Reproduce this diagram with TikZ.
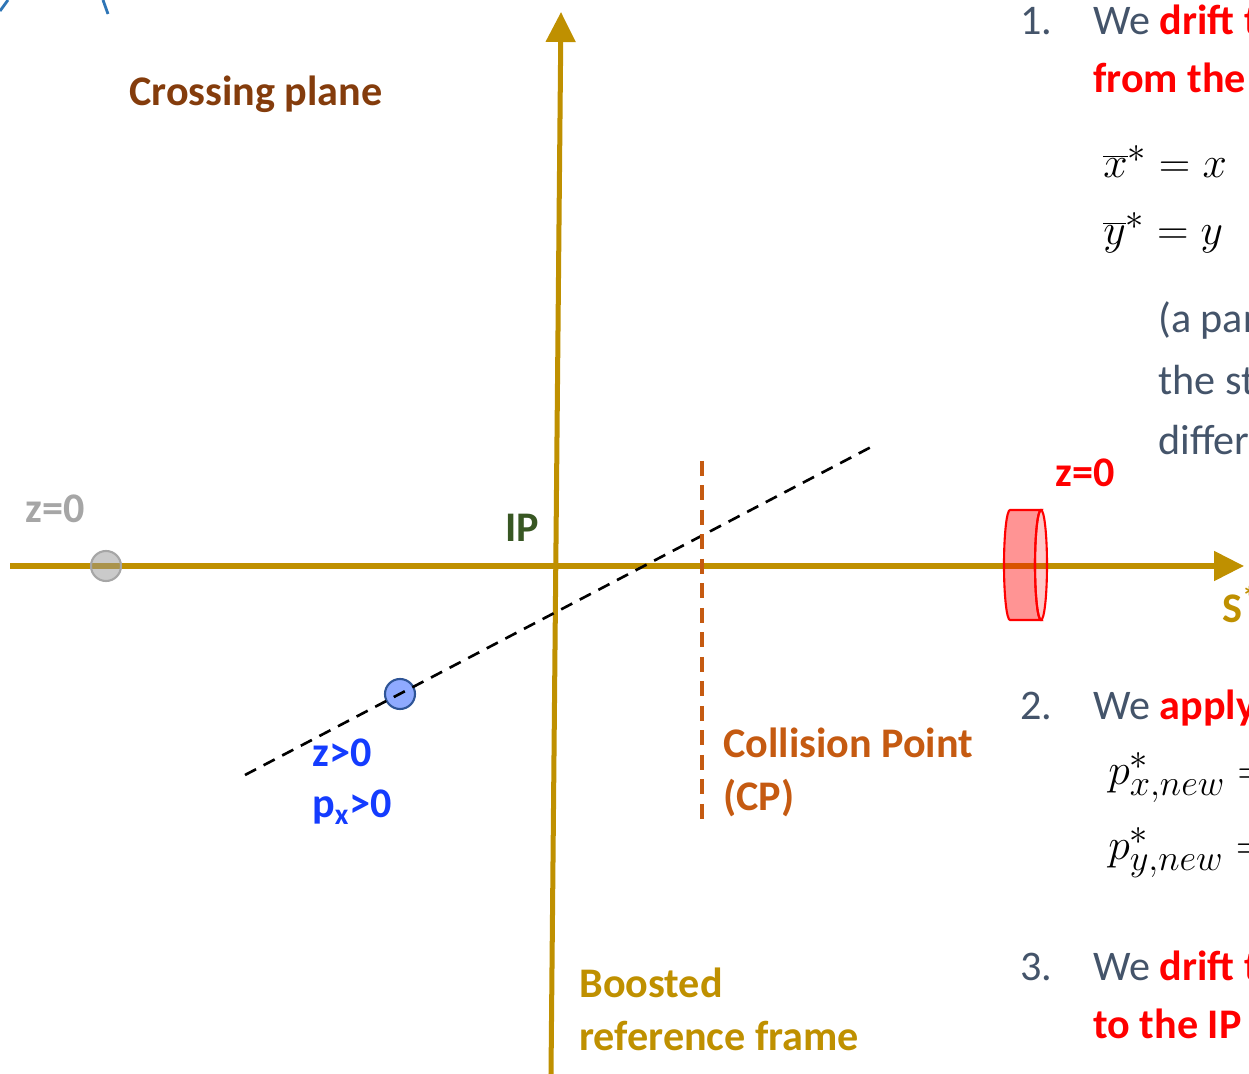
\documentclass[tikz,border=0pt]{standalone}
\usepackage{fontspec}
\setmainfont{Carlito}
\usetikzlibrary{arrows.meta}
\definecolor{axisgold}{RGB}{191,144,0}
\definecolor{planebrown}{RGB}{132,60,12}
\definecolor{ipgreen}{RGB}{56,87,35}
\definecolor{cporange}{RGB}{197,90,17}
\definecolor{partblue}{RGB}{20,60,255}
\definecolor{slate}{RGB}{68,84,106}
\definecolor{arcblue}{RGB}{46,117,182}
\definecolor{ringgray}{RGB}{166,166,166}
\definecolor{disced}{RGB}{255,0,0}
\definecolor{balldraw}{RGB}{47,85,151}
\definecolor{ballfill}{RGB}{143,170,255}
\begin{document}
\begin{tikzpicture}[x=0.02cm,y=-0.02cm,
  lbl/.style={font=\fontsize{24}{29.6}\selectfont\bfseries,anchor=base west,inner sep=0pt,align=left},
  txt/.style={font=\fontsize{24}{29.6}\selectfont,anchor=base west,inner sep=0pt,text=slate},
  eqn/.style={font=\fontsize{31}{36}\selectfont,anchor=base west,inner sep=0pt,text=black},
  axisline/.style={axisgold,line width=2.85pt,-{Triangle[length=0.6cm,width=0.58cm]}}]
  \useasboundingbox (0,0) rectangle (1249,1074);
  \clip (0,0) rectangle (1249,1074);
  % axes of the boosted frame
  \coordinate (sleft) at (10,566);
  \coordinate (sright) at (1244,566);
  \coordinate (xbottom) at (551,1074);
  \coordinate (xtop) at (561,12);
  \draw[axisline] (sleft)--(sright);
  \draw[axisline] (xbottom)--(xtop);
  % bits of an arc at the top left
  \coordinate (arca) at (0,11);
  \coordinate (arcb) at (8,0);
  \coordinate (arcc) at (103,0);
  \coordinate (arcd) at (108,14);
  \draw[arcblue,line width=1.6pt] (arca)--(arcb);
  \draw[arcblue,line width=1.6pt] (arcc)--(arcd);
  % particles
  \draw[ringgray,line width=1.2pt,fill=black!41,fill opacity=0.5] (106,566) circle (15);
  \node[lbl,text=ringgray] (zgray) at (25,523) {z=0};
  \coordinate (trackA) at (245,775);
  \coordinate (trackB) at (873,446);
  \draw[balldraw,line width=1.2pt,fill=ballfill] (400,694) circle (15);
  \draw[black,line width=1.5pt,dash pattern=on 0.25cm off 0.17cm] (trackA)--(trackB);
  \node[lbl,text=partblue] (zpos) at (312,766) {z>0};
  \node[lbl,text=partblue] (pxpos) at (312,818) {p\textsubscript{x}>0};
  % collision point
  \coordinate (cptop) at (702,461);
  \coordinate (cpbottom) at (702,826);
  \draw[cporange,line width=2.1pt,dash pattern=on 0.3cm off 0.19cm] (cptop)--(cpbottom);
  \node[lbl,text=cporange] (cp) at (723,810) {Collision Point\\(CP)};
  % red disc at z=0
  \draw[disced,line width=1.2pt,fill=disced,fill opacity=0.42]
    (1041,510)--(1010,510) arc[start angle=90,end angle=270,x radius=6,y radius=-55]
    --(1041,620) arc[start angle=270,end angle=90,x radius=6,y radius=-55]--cycle;
  \draw[disced,line width=1.2pt,fill=disced,fill opacity=0.22] (1041,565) ellipse[x radius=6,y radius=55];
  \node[lbl,text=disced] (zred) at (1055,487) {z=0};
  \node[lbl,text=axisgold] (sstar) at (1222,623) {S\textsuperscript{*}};
  % labels
  \node[lbl,text=planebrown] (plane) at (129,106) {Crossing plane};
  \node[lbl,text=ipgreen] (ip) at (505,542) {IP};
  \node[lbl,text=axisgold] (boost) at (579,1050) {Boosted\\reference frame};
  % steps on the right
  \node[txt] (num1) at (1020,35) {1.};
  \node[txt] (step1) at (1093,35) {We \textcolor{disced}{\bfseries drift t}};
  \node[txt,text=disced,font=\fontsize{24}{29.6}\selectfont\bfseries] (step1b) at (1093,93) {from the};
  \node[eqn] (xbar) at (1103,178) {$\overline{x}^{*} = x$};
  \node[eqn] (ybar) at (1103,245) {$\overline{y}^{*} = y$};
  \node[txt] (note1) at (1158,333) {(a par};
  \node[txt] (note2) at (1158,395) {the st};
  \node[txt] (note3) at (1158,455) {differ};
  \node[txt] (num2) at (1020,720) {2.};
  \node[txt] (step2) at (1093,720) {We \textcolor{disced}{\bfseries apply}};
  \node[eqn] (pxnew) at (1108,785) {$p^{*}_{x,new} =$};
  \node[eqn] (pynew) at (1108,860) {$p^{*}_{y,new} =$};
  \node[txt] (num3) at (1020,980) {3.};
  \node[txt] (step3) at (1093,980) {We \textcolor{disced}{\bfseries drift t}};
  \node[txt,text=disced,font=\fontsize{24}{29.6}\selectfont\bfseries] (step3b) at (1093,1038) {to the IP};
\end{tikzpicture}
\end{document}
